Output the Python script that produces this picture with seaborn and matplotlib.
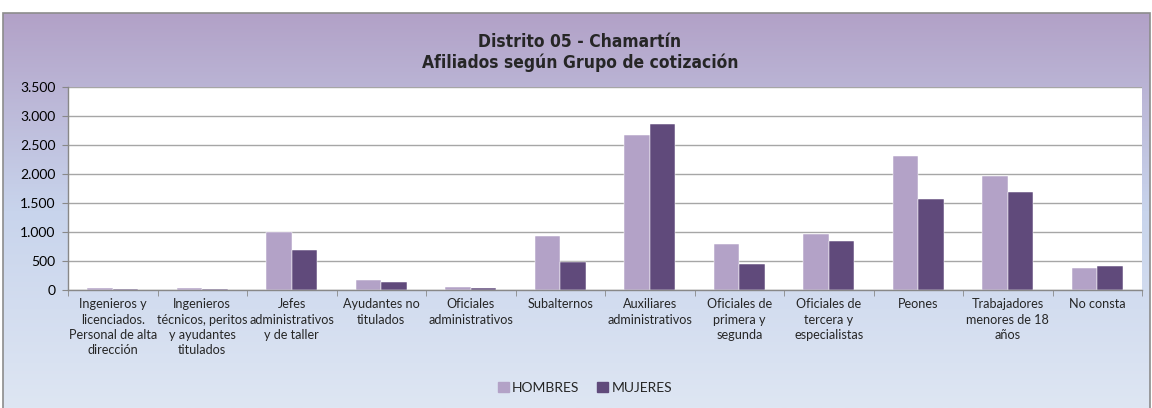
import numpy as np
import pandas as pd
import matplotlib.pyplot as plt
import seaborn as sns
from matplotlib.colors import LinearSegmentedColormap
from matplotlib.patches import Rectangle
from matplotlib.ticker import FuncFormatter

grupos = [
    'Ingenieros y\nlicenciados.\nPersonal de alta\ndirección',
    'Ingenieros\ntécnicos, peritos\ny ayudantes\ntitulados',
    'Jefes\nadministrativos\ny de taller',
    'Ayudantes no\ntitulados',
    'Oficiales\nadministrativos',
    'Subalternos',
    'Auxiliares\nadministrativos',
    'Oficiales de\nprimera y\nsegunda',
    'Oficiales de\ntercera y\nespecialistas',
    'Peones',
    'Trabajadores\nmenores de 18\naños',
    'No consta',
]
hombres = [29, 30, 995, 172, 52, 925, 2680, 795, 968, 2310, 1960, 374]
mujeres = [17, 12, 684, 144, 29, 483, 2868, 443, 845, 1575, 1684, 414]
series = ['HOMBRES', 'MUJERES']
colores = ['#B3A2C7', '#604A7B']

df = pd.DataFrame({
    'grupo': grupos * 2,
    'afiliados': hombres + mujeres,
    'sexo': [series[0]] * len(grupos) + [series[1]] * len(grupos),
})

sns.set_style('white')
plt.rcParams['font.family'] = ['Lato', 'DejaVu Sans']

W, H = 1152, 408
fig = plt.figure(figsize=(W / 100, H / 100), dpi=100)

# fondo degradado del marco
bg = fig.add_axes([0, 0, 1, 1], zorder=-5)
bg.set_xlim(0, 1)
bg.set_ylim(0, 1)
bg.axis('off')
cmap = LinearSegmentedColormap.from_list('fondo', ['#DEE6F3', '#C8D4EC', '#B2A1C7'])
grad = np.linspace(0, 1, 256).reshape(-1, 1)
top = 1 - 13 / H
bg.imshow(grad, cmap=cmap, origin='lower', aspect='auto',
          extent=[3 / W, 1150 / W, 0, top])
bg.add_patch(Rectangle((3 / W, -0.01), 1147 / W, top + 0.01, fill=False,
                       edgecolor='#8C8C8C', linewidth=1.2))

ax = fig.add_axes([68 / W, 1 - 290 / H, (1142 - 68) / W, (290 - 87) / H])
sns.barplot(data=df, x='grupo', y='afiliados', hue='sexo', palette=colores,
            width=0.57, saturation=1, edgecolor='white', linewidth=0.35,
            ax=ax, legend=True)

ax.set_facecolor('white')
ax.set_ylim(0, 3500)
ax.set_yticks(range(0, 3501, 500))
ax.yaxis.set_major_formatter(FuncFormatter(lambda v, p: f'{int(v):,}'.replace(',', '.')))
ax.yaxis.grid(True, color='#A6A6A6', linewidth=1)
ax.set_axisbelow(True)
ax.set_xlim(-0.5, len(grupos) - 0.5)
ax.set_xlabel('')
ax.set_ylabel('')
for s in ['top', 'right']:
    ax.spines[s].set_visible(False)
for s in ['left', 'bottom']:
    ax.spines[s].set_color('#888888')
    ax.spines[s].set_linewidth(1)

ax.tick_params(axis='y', left=True, length=4, color='#888888', labelsize=10,
               labelcolor='black', pad=5)
ax.set_xticks(range(len(grupos)))
ax.set_xticklabels(grupos, fontsize=9.1, linespacing=1.32)
ax.tick_params(axis='x', which='major', length=0, pad=6)
ax.set_xticks(np.arange(-0.5, len(grupos), 1), minor=True)
ax.tick_params(axis='x', which='minor', bottom=True, length=4, color='#888888')

ax.legend_.remove()
handles = [Rectangle((0, 0), 1, 1, color=c) for c in colores]
fig.legend(handles, series, loc='center', bbox_to_anchor=(585 / W, 1 - 388 / H),
           ncol=2, frameon=False, fontsize=10, handlelength=0.75, handleheight=0.75,
           handletextpad=0.25, columnspacing=1.3)

fuente_titulo = ['DejaVu Sans']
fig.text(580 / W, 1 - 47 / H, 'Distrito 05 - Chamartín', ha='center', va='baseline',
         fontsize=12.5, fontweight='bold', fontstretch='condensed', family=fuente_titulo)
fig.text(580 / W, 1 - 68 / H, 'Afiliados según Grupo de cotización', ha='center', va='baseline',
         fontsize=12.5, fontweight='bold', fontstretch='condensed', family=fuente_titulo)

fig.savefig('out.png', dpi=100)
